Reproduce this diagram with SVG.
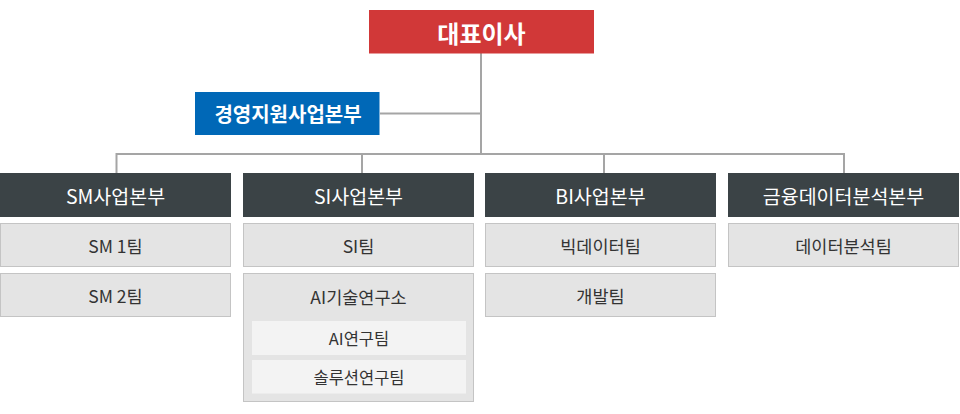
<svg xmlns="http://www.w3.org/2000/svg" width="960" height="414" viewBox="0 0 960 414">
<style>
text{font-family:"Noto Sans CJK KR","Noto Sans",sans-serif;text-anchor:middle;dominant-baseline:central}
.ceo{fill:#d13838}
.sup{fill:#0068b7}
.div{fill:#3b4346}
.team{fill:#e4e4e4;stroke:#c4c4c4;stroke-width:1}
.inner{fill:#f3f3f3}
.tw{fill:#ffffff}
.tb{font-size:24px;font-weight:bold}
.ts{font-size:20px;font-weight:bold}
.td{font-size:19.5px}
.tt{fill:#333333;font-size:17.5px}
.ti{fill:#333333;font-size:16.5px}
.conn{fill:none;stroke:#a5a5a5;stroke-width:2}
</style>
<g id="connectors" class="conn">
<path d="M481 53V154"/>
<path d="M380 113.5H481"/>
<path d="M116.5 173V154H844V173"/>
<path d="M362 154V173"/>
<path d="M604 154V173"/>
</g>
<g id="ceo"><rect class="ceo" x="369" y="10" width="225" height="43.5"/><text class="tw tb" x="481.5" y="32">대표이사</text></g>
<g id="mgmt"><rect class="sup" x="195" y="92" width="184.5" height="43"/><text class="tw ts" x="288" y="113.5">경영지원사업본부</text></g>
<g id="sm"><rect class="div" x="0" y="173" width="231" height="44"/><text class="tw td" x="115.5" y="195">SM사업본부</text></g>
<g id="sm1"><rect class="team" x="0.5" y="223.5" width="230" height="43"/><text class="tt" x="115.5" y="245">SM 1팀</text></g>
<g id="sm2"><rect class="team" x="0.5" y="273.5" width="230" height="43"/><text class="tt" x="115.5" y="295">SM 2팀</text></g>
<g id="si"><rect class="div" x="243" y="173" width="231" height="44"/><text class="tw td" x="358.5" y="195">SI사업본부</text></g>
<g id="siteam"><rect class="team" x="243.5" y="223.5" width="230" height="43"/><text class="tt" x="358.5" y="245">SI팀</text></g>
<g id="ailab"><rect class="team" x="243.5" y="273.5" width="230" height="128"/><text class="tt" x="358.5" y="296.5">AI기술연구소</text></g>
<g id="aiteam"><rect class="inner" x="252" y="321" width="214" height="34"/><text class="ti" x="359" y="338">AI연구팀</text></g>
<g id="solteam"><rect class="inner" x="252" y="360" width="214" height="33.5"/><text class="ti" x="359" y="377">솔루션연구팀</text></g>
<g id="bi"><rect class="div" x="485" y="173" width="231" height="44"/><text class="tw td" x="600.5" y="195">BI사업본부</text></g>
<g id="bigdata"><rect class="team" x="485.5" y="223.5" width="230" height="43"/><text class="tt" x="600.5" y="245">빅데이터팀</text></g>
<g id="dev"><rect class="team" x="485.5" y="273.5" width="230" height="43"/><text class="tt" x="600.5" y="295">개발팀</text></g>
<g id="fin"><rect class="div" x="728" y="173" width="231" height="44"/><text class="tw td" x="843.5" y="195">금융데이터분석본부</text></g>
<g id="analysis"><rect class="team" x="728.5" y="223.5" width="230" height="43"/><text class="tt" x="843.5" y="245">데이터분석팀</text></g>
</svg>
